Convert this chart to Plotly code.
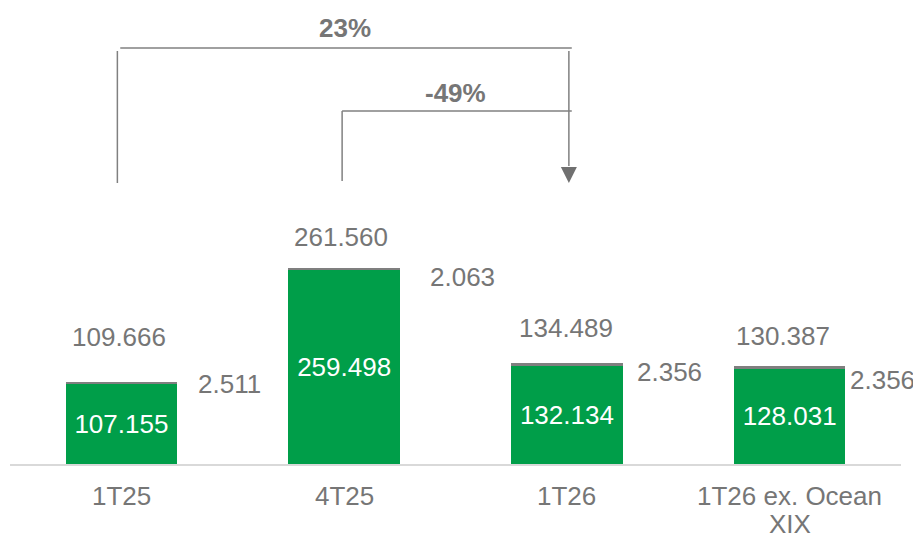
import plotly.graph_objects as go

categories = ["1T25", "4T25", "1T26", "1T26 ex. Ocean<br>XIX"]
base_values = [107155, 259498, 132134, 128031]
top_values = [2511, 2063, 2356, 2356]
total_values = [109666, 261560, 134489, 130387]
growth_labels = ["23%", "-49%"]

GREEN = "#009E49"
GRAY = "#7F7F7F"
TEXT = "#767676"
FONT = "Liberation Sans, Arial, sans-serif"
FS = 26

def fmt(v):
    return f"{v:,}".replace(",", ".")

fig = go.Figure()
fig.add_trace(go.Bar(
    x=categories, y=base_values, marker=dict(color=GREEN, line=dict(width=0)),
    text=[fmt(v) for v in base_values], textposition="inside",
    insidetextanchor="middle", textangle=0,
    textfont=dict(color="white", size=FS, family=FONT), width=0.5,
    hoverinfo="skip",
))
fig.add_trace(go.Bar(
    x=categories, y=top_values, marker=dict(color=GRAY, line=dict(width=0)),
    textposition="none", width=0.5, hoverinfo="skip",
))

annotations = []
# category labels below axis
for c in categories:
    for j, part in enumerate(c.split("<br>")):
        annotations.append(dict(x=c, y=0, text=part, showarrow=False,
                                xref="x", yref="y", yanchor="middle",
                                yshift=-32 - 28 * j, height=28, borderpad=0,
                                font=dict(color=TEXT, size=FS, family=FONT)))
# totals above bars
tot_yshift = [45, 31, 35, 30]
tot_xshift = [-2, -3, -1, -7]
for i, (c, t) in enumerate(zip(categories, total_values)):
    annotations.append(dict(x=c, y=t, text=fmt(t), showarrow=False,
                            xref="x", yref="y", yanchor="middle",
                            yshift=tot_yshift[i], xshift=tot_xshift[i],
                            font=dict(color=TEXT, size=FS, family=FONT)))
# small segment labels to the right
seg_xshift = [75, 84, 68, 58]
seg_yshift = [-2, -9, -9, -14]
for i, (c, t, s) in enumerate(zip(categories, total_values, top_values)):
    annotations.append(dict(x=c, y=t, text=fmt(s), showarrow=False,
                            xref="x", yref="y", xanchor="left", yanchor="middle",
                            xshift=seg_xshift[i], yshift=seg_yshift[i],
                            font=dict(color=TEXT, size=FS, family=FONT)))
# growth labels
annotations.append(dict(x=1.004, y=0.9561, xref="x", yref="paper", text="<b>" + growth_labels[0] + "</b>",
                        showarrow=False, yanchor="middle", font=dict(color=TEXT, size=FS, family=FONT)))
annotations.append(dict(x=1.502, y=0.8136, xref="x", yref="paper", text="<b>" + growth_labels[1] + "</b>",
                        showarrow=False, yanchor="middle", font=dict(color=TEXT, size=FS, family=FONT)))

line = dict(color="#808080", width=1.5)
shapes = [
    dict(type="line", xref="x", yref="paper", x0=-0.018, x1=-0.018, y0=0.6162, y1=0.9057, line=line),
    dict(type="line", xref="x", yref="paper", x0=-0.005, x1=2.022, y0=0.9123, y1=0.9123, line=line),
    dict(type="line", xref="x", yref="paper", x0=2.009, x1=2.009, y0=0.6535, y1=0.9057, line=line),
    dict(type="path", xref="x", yref="paper",
         path="M 1.973 0.6513 L 2.045 0.6513 L 2.009 0.6162 Z",
         fillcolor="#707070", line=dict(width=0)),
    dict(type="line", xref="x", yref="paper", x0=0.991, x1=0.991, y0=0.6206, y1=0.7741, line=line),
    dict(type="line", xref="x", yref="paper", x0=0.991, x1=2.022, y0=0.7741, y1=0.7741, line=line),
]

fig.update_layout(
    width=913, height=529, barmode="stack", showlegend=False,
    margin=dict(l=1.5, r=19.5, t=0, b=73, autoexpand=False),
    paper_bgcolor="white", plot_bgcolor="white",
    separators=",.",
    annotations=annotations, shapes=shapes,
    xaxis=dict(showgrid=False, showline=True, linecolor="#D9D9D9", linewidth=2,
               range=[-0.5, 3.5], autorange=False,
               ticks="", showticklabels=False, automargin=False, fixedrange=True),
    yaxis=dict(visible=False, range=[0, 608800], fixedrange=True, automargin=False),
    font=dict(family=FONT),
)

fig.write_html("out.html")
